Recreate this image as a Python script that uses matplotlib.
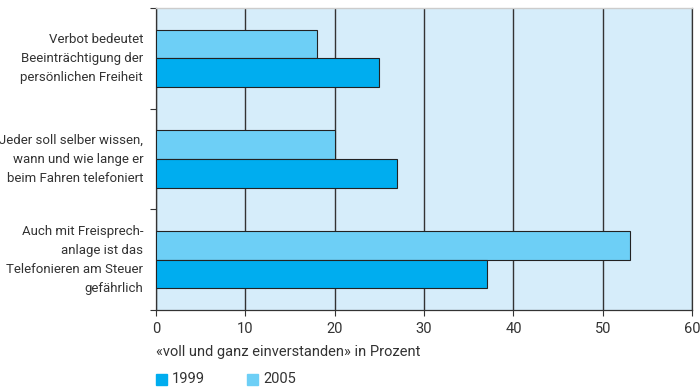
import numpy as np
import matplotlib.pyplot as plt

plt.rcParams["font.family"] = ["Roboto", "DejaVu Sans"]

categories = [
    "Verbot bedeutet\nBeeinträchtigung der\npersönlichen Freiheit",
    "Jeder soll selber wissen,\nwann und wie lange er\nbeim Fahren telefoniert",
    "Auch mit Freisprech-\nanlage ist das\nTelefonieren am Steuer\ngefährlich",
]
werte_1999 = [25, 27, 37]
werte_2005 = [18, 20, 53]
x_ticks = [0, 10, 20, 30, 40, 50, 60]

col_1999 = "#00adef"
col_2005 = "#6dcff6"
col_bg = "#d6edfa"
text_col = "#333333"
fs = 10.5

fig = plt.figure(figsize=(7, 3.87), dpi=100)
ax = fig.add_axes([0.223, 0.199, 0.7657, 0.780])
ax.set_facecolor(col_bg)

y = np.arange(len(categories))
h = 0.285
ax.barh(y - h / 2, werte_2005, height=h, color=col_2005, edgecolor="#222222",
        linewidth=0.8, zorder=3)
ax.barh(y + h / 2, werte_1999, height=h, color=col_1999, edgecolor="#222222",
        linewidth=0.8, zorder=3)

ax.set_xlim(0, 60)
ax.set_ylim(2.5, -0.5)
ax.set_xticks(x_ticks)
ax.set_xticklabels([str(v) for v in x_ticks], fontsize=fs, color=text_col)
ax.xaxis.grid(True, color="#333333", linewidth=1.0, zorder=1)
ax.set_axisbelow(True)

ax.set_yticks([-0.5, 0.5, 1.5, 2.5])
ax.set_yticklabels([])
ax.tick_params(axis="y", length=4, width=0.8, color="#333333")
ax.tick_params(axis="x", length=4, width=0.8, color="#333333", pad=5)
for yi, lab in zip(y, categories):
    ax.text(-1.45, yi, lab, ha="right", va="center", fontsize=9.5,
            color=text_col, linespacing=1.6)

for s in ["left", "bottom", "right"]:
    ax.spines[s].set_color("#333333")
    ax.spines[s].set_linewidth(0.9)
ax.spines["top"].set_color("#cccccc")
ax.spines["top"].set_linewidth(1.0)

fig.text(156 / 700, 1 - 352 / 387, "«voll und ganz einverstanden» in Prozent",
         ha="left", va="center", fontsize=fs, color=text_col)

# legende
for xs, lab, c in [(156, "1999", col_1999), (247, "2005", col_2005)]:
    fig.patches.append(plt.Rectangle((xs / 700, 1 - 385 / 387), 11 / 700, 11 / 387,
                                     transform=fig.transFigure, color=c))
    fig.text((xs + 16) / 700, 1 - 379 / 387, lab, ha="left", va="center",
             fontsize=fs, color=text_col)

fig.savefig("out.png", dpi=100)
